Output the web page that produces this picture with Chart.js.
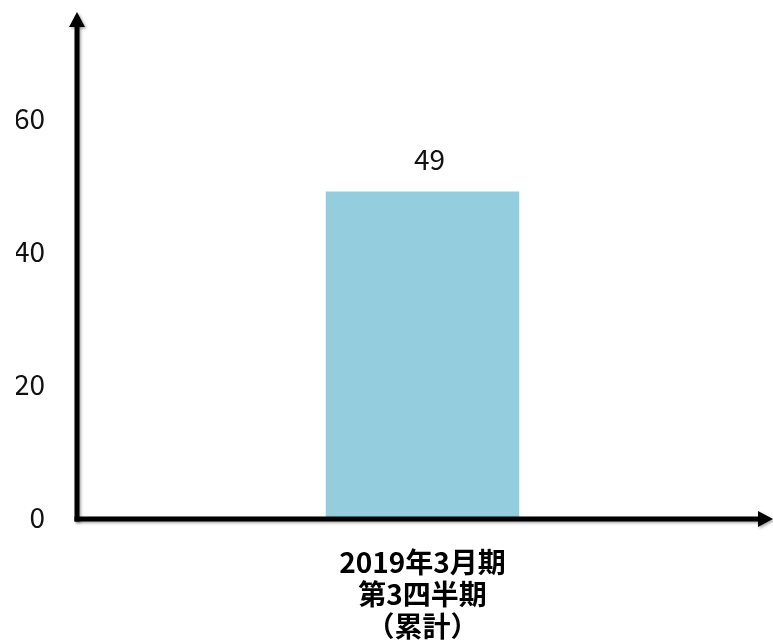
<!DOCTYPE html>
<html>
<head>
<meta charset="utf-8">
<script src="https://cdn.jsdelivr.net/npm/chart.js@4.4.1/dist/chart.umd.min.js"></script>
<style>
  html, body { margin: 0; padding: 0; background: #fff; }
  #wrap { width: 773px; height: 644px; position: relative; }
</style>
</head>
<body>
<div id="wrap"><canvas id="c"></canvas></div>
<script>
const categories = [['2019年3月期', '第3四半期', '（累計）']];
const values = [49];
const yTicks = [0, 20, 40, 60];
const yMax = 76;

const FONT = '"Noto Sans CJK JP", "Noto Sans", sans-serif';

const arrowAxes = {
  id: 'arrowAxes',
  afterDatasetsDraw(chart) {
    const { ctx, chartArea: a } = chart;
    ctx.save();
    ctx.shadowColor = 'rgba(0,0,0,0.35)';
    ctx.shadowBlur = 3;
    ctx.shadowOffsetX = 1.5;
    ctx.shadowOffsetY = 1.5;
    ctx.fillStyle = '#000';
    ctx.strokeStyle = '#000';
    ctx.lineWidth = 5;
    const x0 = a.left, y0 = a.bottom + 2;
    // y axis
    ctx.beginPath();
    ctx.moveTo(x0, y0 + 2.5);
    ctx.lineTo(x0, a.top + 12);
    ctx.stroke();
    ctx.beginPath();
    ctx.moveTo(x0, a.top);
    ctx.lineTo(x0 - 8, a.top + 15);
    ctx.lineTo(x0 + 8, a.top + 15);
    ctx.closePath();
    ctx.fill();
    // x axis
    const xr = a.right + 5;
    ctx.beginPath();
    ctx.moveTo(x0 - 2.5, y0);
    ctx.lineTo(xr - 12, y0);
    ctx.stroke();
    ctx.beginPath();
    ctx.moveTo(xr, y0);
    ctx.lineTo(xr - 15, y0 - 8);
    ctx.lineTo(xr - 15, y0 + 8);
    ctx.closePath();
    ctx.fill();
    ctx.restore();
  }
};

const valueLabels = {
  id: 'valueLabels',
  afterDatasetsDraw(chart) {
    const { ctx } = chart;
    const meta = chart.getDatasetMeta(0);
    ctx.save();
    ctx.font = '28px ' + FONT;
    ctx.fillStyle = '#111';
    ctx.textAlign = 'center';
    ctx.textBaseline = 'alphabetic';
    meta.data.forEach((bar, i) => {
      ctx.fillText(String(values[i]), bar.x + 7, bar.y - 21);
    });
    ctx.restore();
  }
};

new Chart(document.getElementById('c'), {
  type: 'bar',
  data: {
    labels: categories,
    datasets: [{
      data: values,
      backgroundColor: '#94cddd',
      borderWidth: 0,
      barPercentage: 0.28,
      categoryPercentage: 1
    }]
  },
  options: {
    responsive: true,
    maintainAspectRatio: false,
    animation: false,
    layout: { padding: { left: 16, right: 5, top: 12, bottom: 0 } },
    plugins: { legend: { display: false }, tooltip: { enabled: false } },
    scales: {
      x: {
        grid: { display: false, drawTicks: false },
        border: { display: false },
        afterFit(s) { s.height = 127; s.paddingLeft = 0; s.paddingRight = 0; },
        ticks: {
          color: '#000',
          padding: 29,
          font: { family: FONT, size: 28, weight: 'bold', lineHeight: 1.15 }
        }
      },
      y: {
        min: 0,
        max: yMax,
        afterBuildTicks(axis) { axis.ticks = yTicks.map(v => ({ value: v })); },
        afterFit(s) { s.width = 61; s.paddingTop = 0; s.paddingBottom = 0; },
        grid: { display: false, drawTicks: false },
        border: { display: false },
        ticks: {
          color: '#111',
          padding: 32,
          font: { family: FONT, size: 28 }
        }
      }
    }
  },
  plugins: [arrowAxes, valueLabels]
});
</script>
</body>
</html>
